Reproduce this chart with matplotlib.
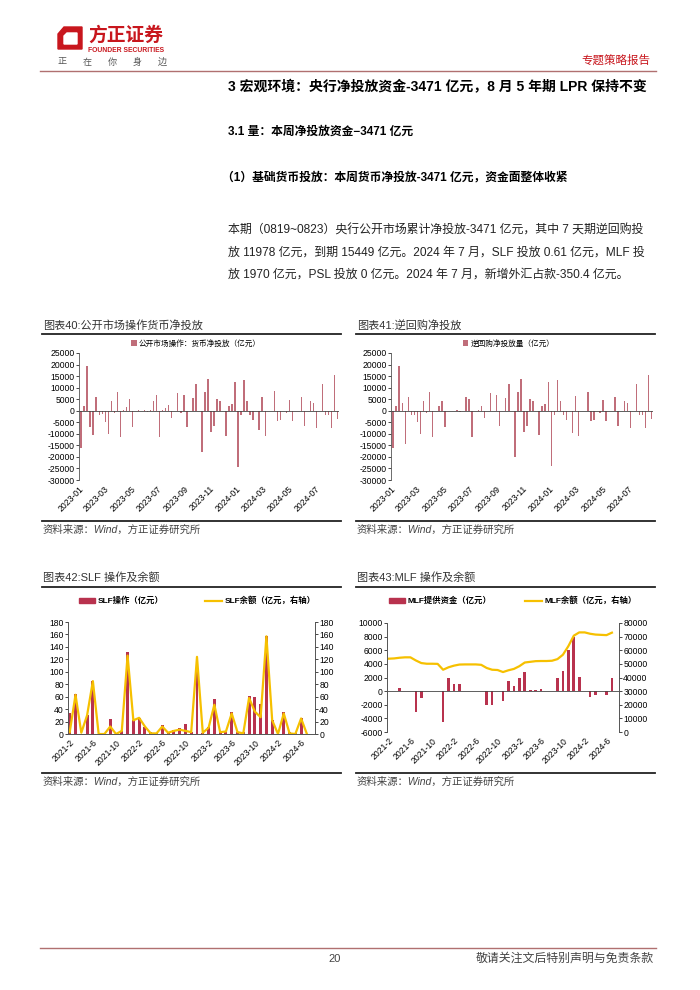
import numpy as np
import pandas as pd
import matplotlib
matplotlib.use("Agg")
import matplotlib.pyplot as plt
from matplotlib.patches import Patch, Polygon
from matplotlib.lines import Line2D

plt.rcParams['font.family'] = ['Liberation Sans', 'Noto Sans CJK SC']
plt.rcParams['axes.unicode_minus'] = False

W, H = 700, 990

# weekly net injections (亿元), 2023-01 .. 2024-08
weeks = pd.date_range('2023-01-06', periods=86, freq='W-FRI')
omo_net = [-16000, 2000, 19500, -7000, -10500, 6000, -2000, -1500, -5000, -10000,
           4200, -1000, 8000, -11500, 300, 1500, 5000, -7000, 0, 100,
           0, 500, -500, 500, 4000, 7000, -11500, 500, 1000, 2500,
           -3000, 0, 7500, -1000, 6800, -7000, 0, 5500, 11500, 0,
           -18000, 8000, 13800, -9000, -6500, 5000, 4000, 0, -11000, 2000,
           3000, 12500, -24500, -2000, 13500, 4000, -2000, -4000, 0, -8500,
           6000, -11000, 0, 0, 8500, -4500, -4000, 0, -1000, 4500,
           -4500, 0, 0, 6000, -6500, 0, 4000, 3500, -7500, 0,
           11500, -2000, -2000, -7500, 15500, -3500]
repo_net = [-16000, 2000, 19500, 3500, -14500, 6000, -2000, -2000, -5000, -10000,
            4200, -1000, 8000, -11500, 0, 2000, 4000, -7000, 0, 0,
            0, 300, -500, 0, 6000, 5000, -11500, 0, 500, 2000,
            -3000, 0, 7500, 0, 7000, -6500, 0, 5500, 11500, 0,
            -20000, 8000, 13800, -9000, -6500, 5000, 4000, 0, -10500, 2000,
            3000, 12500, -24000, -2000, 13500, 4000, -2000, -4000, 0, -9500,
            6500, -11000, 0, 0, 8000, -4500, -4000, 0, -1000, 4500,
            -4500, 0, 0, 6000, -6500, 0, 4000, 3500, -7500, 0,
            11500, -2000, -2000, -7500, 15500, -3500]
week_ticks = pd.date_range('2023-01-01', '2024-07-01', freq='2MS')

# monthly data 2021-2 .. 2024-7
months = pd.period_range('2021-02', '2024-07', freq='M')
month_labels = [f"{p.year}-{p.month}" for p in months]
slf_ops = [34, 65, 0, 30, 85, 0, 0, 24, 0, 5, 131, 23, 26, 12, 3, 1, 14, 3, 7, 9, 16,
           3, 124, 2, 12, 56, 3, 4, 35, 4, 3, 61, 59, 48, 157, 22, 1, 35, 3, 1, 25, 0.61]
slf_bal = [3, 63, 2, 30, 85, 0, 0, 12, 0, 5, 126, 22, 26, 12, 1, 1, 12, 2, 5, 7, 5,
           3, 124, 2, 10, 47, 3, 4, 33, 3, 1, 58, 36, 27, 157, 22, 0, 33, 1, 0, 25, 0]
mlf_net = [0, 0, 500, 0, 0, -3000, -1000, 0, 0, 0, -4500, 2000, 1000, 1000, 0, 0, 0, 0,
           -2000, -2000, 0, -1500, 1500, 700, 2000, 2800, 100, 100, 300, 0, 0, 2000,
           2900, 6000, 8000, 2100, 0, -900, -500, 0, -500, 1970]
mlf_bal = [53800, 54000, 54500, 54800, 54800, 52500, 50600, 50100, 50100, 50000, 45700,
           47500, 48700, 49500, 49600, 49600, 49600, 49300, 47000, 45700, 45500, 44000,
           45300, 46300, 48300, 51000, 51500, 52000, 52100, 52100, 52300, 53500, 56700,
           63000, 70700, 73100, 73100, 72100, 71500, 71300, 71100, 72900]

RED = '#C8161D'
RULE = '#B07070'
PINK = '#C06E7A'
CRIMSON = '#B8324E'
GOLD = '#F6C000'

fig = plt.figure(figsize=(7, 9.9), dpi=100)
bg = fig.add_axes([0, 0, 1, 1])
bg.set_xlim(0, W)
bg.set_ylim(H, 0)
bg.axis('off')


def rect(x0, y0, x1, y1):
    return [x0 / W, 1 - y1 / H, (x1 - x0) / W, (y1 - y0) / H]


# header
bg.add_patch(Polygon([(58, 34), (64, 27), (82, 27), (82, 49), (58, 49)], color=RED))
bg.add_patch(Polygon([(64, 36), (67, 33), (77, 33), (77, 44), (64, 44)], color='white'))
bg.text(88, 35, '方正证券', fontsize=13.5, fontweight='bold', color=RED, va='center')
bg.text(88, 50, 'FOUNDER SECURITIES', fontsize=4.9, fontweight='bold', color=RED, va='center')
for i, ch in enumerate('正在你身边'):
    bg.text(58 + 25 * i, 62, ch, fontsize=6.5, color='#555', va='center')
bg.text(650, 61, '专题策略报告', fontsize=8.3, color=RED, va='center', ha='right')
bg.plot([40, 656], [71, 71], color=RULE, lw=1)

bg.text(228, 87, '3 宏观环境：央行净投放资金-3471 亿元，8 月 5 年期 LPR 保持不变',
        fontsize=10, fontweight='bold', va='center')
bg.text(228, 132, '3.1 量：本周净投放资金−3471 亿元', fontsize=8.5, fontweight='bold', va='center')
bg.text(222, 178, '（1）基础货币投放：本周货币净投放-3471 亿元，资金面整体收紧',
        fontsize=8.5, fontweight='bold', va='center')
para = ['本期（0819~0823）央行公开市场累计净投放-3471 亿元，其中 7 天期逆回购投',
        '放 11978 亿元，到期 15449 亿元。2024 年 7 月，SLF 投放 0.61 亿元，MLF 投',
        '放 1970 亿元，PSL 投放 0 亿元。2024 年 7 月，新增外汇占款-350.4 亿元。']
for i, line in enumerate(para):
    bg.text(228, 231 + 22 * i, line, fontsize=8.6, va='center', color='#222')

# footer
bg.plot([40, 656], [948, 948], color=RULE, lw=1)
bg.text(335, 959, '20', fontsize=8, va='center', ha='center', color='#444')
bg.text(654, 959, '敬请关注文后特别声明与免责条款', fontsize=8.6, va='center', ha='right', color='#444')


def frame(x0, x1, ytitle, yrule, ybottom, title):
    bg.text(x0, ytitle, title, fontsize=8, va='center', color='#333')
    bg.plot([x0 - 1, x1], [yrule, yrule], color='#222', lw=1.3)
    bg.plot([x0 - 1, x1], [ybottom, ybottom], color='#222', lw=1.3)
    bg.text(x0, ybottom + 9, '资料来源：Wind，方正证券研究所', fontsize=7.5, va='center',
            color='#444', style='italic')


def weekly_chart(x0, left, right, title, label, values):
    frame(x0, x0 + 298, 325, 334, 521, title)
    ax = fig.add_axes(rect(left, 353, right, 480))
    ax.bar(weeks, values, width=3.5, color=PINK, label=label)
    ax.axhline(0, color='#444', lw=0.6)
    ax.set_ylim(-30000, 25000)
    ax.set_yticks(range(-30000, 25001, 5000))
    ax.set_xlim(pd.Timestamp('2023-01-03'), pd.Timestamp('2024-08-26'))
    ax.set_xticks(week_ticks)
    ax.set_xticklabels([t.strftime('%Y-%m') for t in week_ticks], rotation=45,
                       ha='right', rotation_mode='anchor', fontsize=6.2)
    for s in ['top', 'right', 'bottom']:
        ax.spines[s].set_visible(False)
    ax.spines['left'].set_color('#555')
    ax.spines['left'].set_linewidth(0.6)
    ax.tick_params(axis='x', length=0, pad=3)
    ax.tick_params(axis='y', labelsize=6.2, length=2, width=0.5, pad=1)
    ax.legend(loc='lower center', bbox_to_anchor=(0.45, 1.0), fontsize=5.5, frameon=False,
              handlelength=0.7, handleheight=0.7, handletextpad=0.3, borderpad=0.2)


weekly_chart(43, 79, 339, '图表40:公开市场操作货币净投放', '公开市场操作：货币净投放（亿元）', omo_net)
weekly_chart(357, 391, 653, '图表41:逆回购净投放', '逆回购净投放量（亿元）', repo_net)

x = np.arange(len(months))
tick_idx = x[::4]


def monthly_axes(ax, ax2, xmax):
    ax.set_xlim(-0.3, xmax)
    ax.set_xticks(tick_idx)
    ax.set_xticklabels([month_labels[i] for i in tick_idx], rotation=45, ha='right',
                       rotation_mode='anchor', fontsize=6.2)
    for a in (ax, ax2):
        a.spines['top'].set_visible(False)
        a.tick_params(axis='y', labelsize=6.2, length=2, width=0.5, pad=1)
        for s in ('left', 'right', 'bottom'):
            a.spines[s].set_color('#555')
            a.spines[s].set_linewidth(0.6)
    ax.tick_params(axis='x', length=0, pad=3)


# SLF
frame(43, 341, 577, 587, 773, '图表42:SLF 操作及余额')
ax = fig.add_axes(rect(68, 622, 315, 734))
ax.bar(x, slf_ops, width=0.5, color=CRIMSON, label='SLF操作（亿元）')
ax2 = ax.twinx()
ax2.plot(x, slf_bal, color=GOLD, lw=1.6, label='SLF余额（亿元，右轴）')
ax.set_ylim(0, 180)
ax2.set_ylim(0, 180)
ax.set_yticks(range(0, 181, 20))
ax2.set_yticks(range(0, 181, 20))
monthly_axes(ax, ax2, 42.4)
fig.legend(handles=[Patch(color=CRIMSON, label='SLF操作（亿元）'),
                    Line2D([], [], color=GOLD, lw=1.6, label='SLF余额（亿元，右轴）')],
           loc='center left', bbox_to_anchor=(71 / W, 1 - 601 / H), ncol=2,
           frameon=False, handlelength=2, handleheight=0.5, handletextpad=0.3,
           columnspacing=5, prop={'weight': 'bold', 'size': 6})

# MLF
frame(357, 655, 577, 587, 773, '图表43:MLF 操作及余额')
ax = fig.add_axes(rect(387, 623, 619, 732))
ax.bar(x, mlf_net, width=0.5, color=CRIMSON, label='MLF提供资金（亿元）')
ax.axhline(0, color='#444', lw=0.6)
ax2 = ax.twinx()
ax2.plot(x, mlf_bal, color=GOLD, lw=1.6, label='MLF余额（亿元，右轴）')
ax.set_ylim(-6000, 10000)
ax.set_yticks(range(-6000, 10001, 2000))
ax2.set_ylim(0, 80000)
ax2.set_yticks(range(0, 80001, 10000))
monthly_axes(ax, ax2, 42.3)
ax.spines['bottom'].set_visible(False)
ax2.spines['bottom'].set_visible(False)
fig.legend(handles=[Patch(color=CRIMSON, label='MLF提供资金（亿元）'),
                    Line2D([], [], color=GOLD, lw=1.6, label='MLF余额（亿元，右轴）')],
           loc='center left', bbox_to_anchor=(381 / W, 1 - 601 / H), ncol=2,
           frameon=False, handlelength=2, handleheight=0.5, handletextpad=0.3,
           columnspacing=4, prop={'weight': 'bold', 'size': 6})

fig.savefig('out.png', dpi=100)
